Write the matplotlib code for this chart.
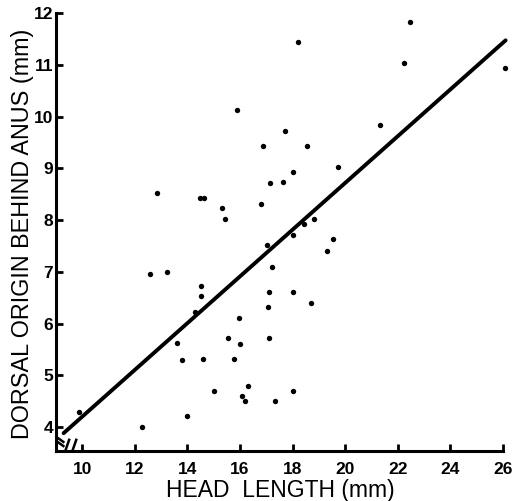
import matplotlib
matplotlib.use("Agg")
import matplotlib.pyplot as plt
import numpy as np

head_length = [9.86, 12.27, 12.59, 12.84, 13.24, 13.60, 13.79, 13.98, 14.30, 14.49,
               14.64, 14.51, 14.51, 14.60, 14.99, 15.32, 15.41, 15.53, 15.77, 15.88,
               15.97, 15.99, 16.08, 16.19, 16.31, 16.81, 16.87, 17.03, 17.07, 17.09,
               17.10, 17.12, 17.22, 17.31, 17.62, 17.72, 18.00, 18.01, 18.01, 18.03,
               18.19, 18.44, 18.53, 18.71, 18.80, 19.32, 19.54, 19.72, 21.31, 22.23,
               22.46, 26.06]
dorsal_origin = [4.29, 4.00, 6.96, 8.53, 7.00, 5.62, 5.29, 4.21, 6.23, 8.43,
                 8.43, 6.72, 6.53, 5.31, 4.69, 8.24, 8.02, 5.71, 5.31, 10.12,
                 6.10, 5.61, 4.60, 4.50, 4.79, 8.31, 9.44, 7.52, 6.31, 5.71,
                 6.61, 8.72, 7.10, 4.50, 8.73, 9.72, 4.69, 6.60, 7.71, 8.94,
                 11.44, 7.92, 9.43, 6.40, 8.02, 7.41, 7.63, 9.03, 9.83, 11.04,
                 11.83, 10.94]
fit_x = [9.29, 26.1]
fit_slope = 0.452
fit_intercept = -0.32
x_ticks = [10, 12, 14, 16, 18, 20, 22, 24, 26]
y_ticks = [4, 5, 6, 7, 8, 9, 10, 11, 12]

plt.rcParams['font.family'] = ['Liberation Sans', 'DejaVu Sans']

fig = plt.figure(figsize=(5.23, 5.01), dpi=100)
ax = fig.add_axes([56/523, 50/501, 447/523, 437.7/501])
ax.set_xlim(9.0, 26.0)
ax.set_ylim(3.534, 12.0)

ax.scatter(head_length, dorsal_origin, s=15, color='black', zorder=3, clip_on=False, linewidths=0)
fx = np.array(fit_x)
ax.plot(fx, fit_slope * fx + fit_intercept, color='black', lw=2.8, clip_on=False,
        solid_capstyle='round')

for s in ['top', 'right']:
    ax.spines[s].set_visible(False)
for s in ['left', 'bottom']:
    ax.spines[s].set_linewidth(2.2)

ax.set_xticks(x_ticks)
ax.set_yticks(y_ticks)
ax.tick_params(axis='both', direction='in', length=5, width=2, labelsize=12.5)
ax.tick_params(axis='x', pad=8)
ax.tick_params(axis='y', pad=2)
for lab in ax.get_xticklabels() + ax.get_yticklabels():
    lab.set_fontweight('bold')

# axis break marks
ax.plot([9.03, 9.28], [3.72, 3.63], color='black', lw=1.8, clip_on=False)
ax.plot([9.03, 9.28], [3.80, 3.71], color='black', lw=1.8, clip_on=False)
ax.plot([9.35, 9.5], [3.53, 3.75], color='black', lw=1.8, clip_on=False)
ax.plot([9.62, 9.77], [3.53, 3.75], color='black', lw=1.8, clip_on=False)

fig.text(280/523, 1 - 490/501, 'HEAD  LENGTH (mm)', ha='center', va='center', fontsize=16.5)
fig.text(23/523, 1 - 234/501, 'DORSAL ORIGIN BEHIND ANUS (mm)', ha='center', va='center',
         fontsize=16.8, rotation=90)

fig.savefig('out.png', dpi=100)
